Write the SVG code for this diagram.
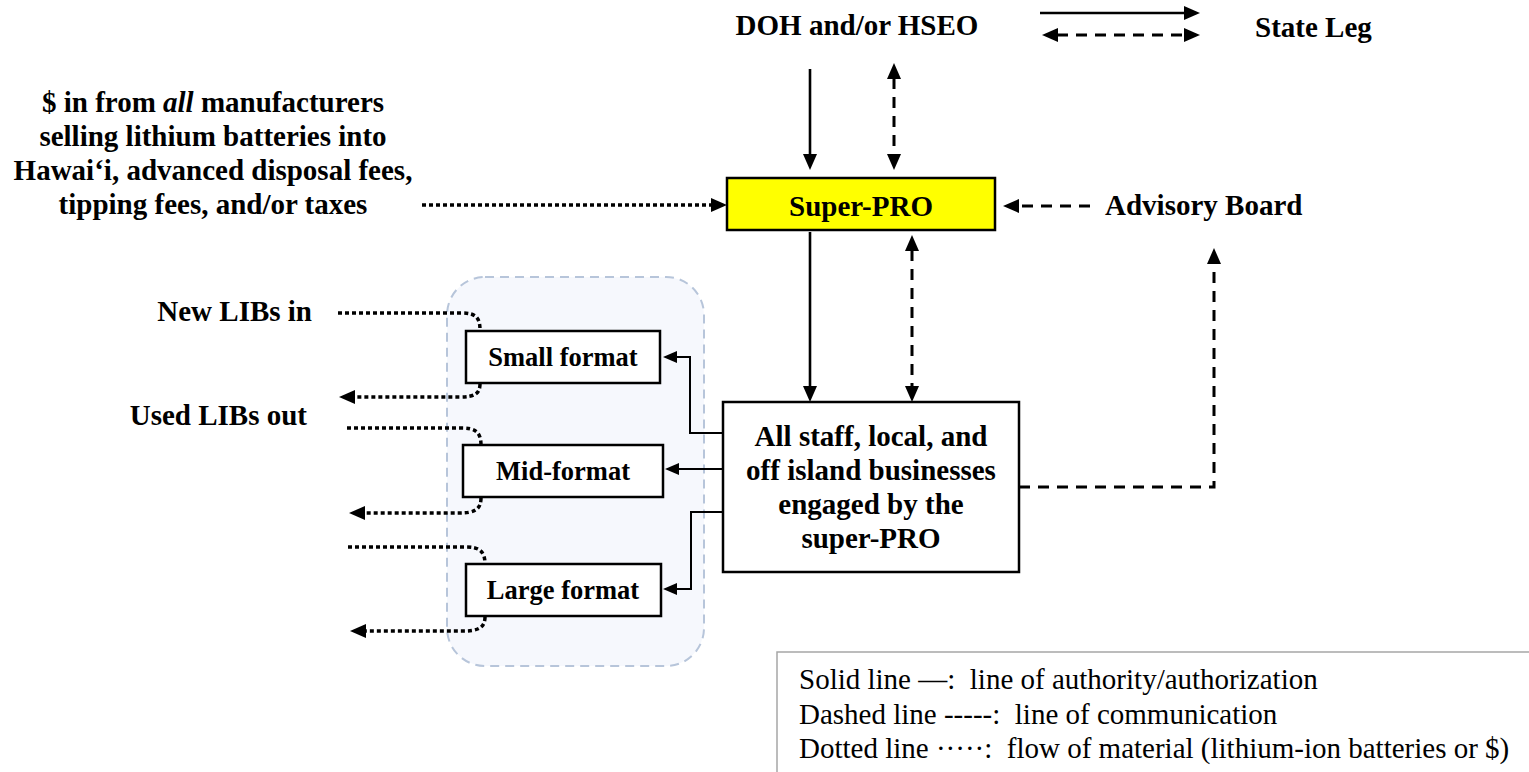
<svg xmlns="http://www.w3.org/2000/svg" width="1529" height="772" viewBox="0 0 1529 772">
  <style>
    .lbl { font-family: "Liberation Serif", "Times New Roman", serif; font-weight: bold; font-size: 29px; fill: #000; }
    .fmt { font-family: "Liberation Serif", "Times New Roman", serif; font-weight: bold; font-size: 26.5px; fill: #000; }
    .leg { font-family: "Liberation Serif", "Times New Roman", serif; font-size: 29px; fill: #000; white-space: pre; }
    .box { fill: #fff; stroke: #000; stroke-width: 2.5; }
    .solid { fill: none; stroke: #000; stroke-width: 2.6; }
    .thin { fill: none; stroke: #000; stroke-width: 2; }
    .dash { fill: none; stroke: #000; stroke-width: 3; stroke-dasharray: 11 8; }
    .dot { fill: none; stroke: #000; stroke-width: 3.5; stroke-dasharray: 4 3; }
  </style>
  <defs>
    <marker id="arr" markerUnits="userSpaceOnUse" markerWidth="17" markerHeight="15" refX="1" refY="7" orient="auto-start-reverse">
      <path d="M0,0 L16,7 L0,14 Z" fill="#000"/>
    </marker>
    <marker id="arrSm" markerUnits="userSpaceOnUse" markerWidth="15" markerHeight="13" refX="1" refY="6" orient="auto-start-reverse">
      <path d="M0,0 L14,6 L0,12 Z" fill="#000"/>
    </marker>
  </defs>

  <!-- material-handling area around the three format groups -->
  <rect id="format-area" x="447" y="277" width="257" height="389" rx="38" fill="#f6f8fd" stroke="#b7c5da" stroke-width="2" stroke-dasharray="9 6"/>

  <!-- connectors -->
  <g id="connectors">
    <!-- key at top right -->
    <path class="solid" d="M1040,13 H1185" marker-end="url(#arr)"/>
    <path class="dash" d="M1057,35 H1185" marker-start="url(#arr)" marker-end="url(#arr)"/>

    <!-- agency to Super-PRO -->
    <path class="solid" d="M810,69 V155" marker-end="url(#arr)"/>
    <path class="dash" d="M894,78 V155" marker-start="url(#arr)" marker-end="url(#arr)"/>

    <!-- funding in -->
    <path class="dot" d="M422,205 H712" marker-end="url(#arr)"/>

    <!-- advisory board -->
    <path class="dash" d="M1090,206 H1018" marker-end="url(#arr)"/>

    <!-- Super-PRO to engaged businesses -->
    <path class="solid" d="M810,232 V387" marker-end="url(#arr)"/>
    <path class="dash" d="M912,250 V387" marker-start="url(#arr)" marker-end="url(#arr)"/>

    <!-- engaged businesses to advisory board -->
    <path class="dash" d="M1019,487 H1214 V263" marker-end="url(#arr)"/>

    <!-- engaged businesses to format groups -->
    <path class="thin" d="M723,433 H690 V357 H676" marker-end="url(#arrSm)"/>
    <path class="thin" d="M723,469 H678" marker-end="url(#arrSm)"/>
    <path class="thin" d="M723,512 H691 V589 H676" marker-end="url(#arrSm)"/>

    <!-- battery flows in / out -->
    <path class="dot" d="M338,313 H462 C475,313 480,317 480,330"/>
    <path class="dot" d="M480,384 C480,394 474,397 460,397 H354" marker-end="url(#arr)"/>
    <path class="dot" d="M347,428 H462 C475,428 481,432 481,445"/>
    <path class="dot" d="M481,498 C481,509 475,513 460,513 H364" marker-end="url(#arr)"/>
    <path class="dot" d="M348,547 H466 C479,547 485,551 485,564"/>
    <path class="dot" d="M485,617 C485,627 479,631 464,631 H365" marker-end="url(#arr)"/>
  </g>

  <!-- nodes -->
  <g id="doh">
    <text class="lbl" x="857" y="35" text-anchor="middle">DOH and/or HSEO</text>
  </g>
  <g id="state-leg">
    <text class="lbl" x="1255" y="37">State Leg</text>
  </g>
  <g id="funding">
    <text class="lbl" x="213" y="112" text-anchor="middle">$ in from <tspan font-style="italic">all</tspan> manufacturers</text>
    <text class="lbl" x="213" y="146" text-anchor="middle">selling lithium batteries into</text>
    <text class="lbl" x="213" y="180" text-anchor="middle">Hawai‘i, advanced disposal fees,</text>
    <text class="lbl" x="213" y="214" text-anchor="middle">tipping fees, and/or taxes</text>
  </g>
  <g id="super-pro">
    <rect x="727" y="178" width="268" height="52" fill="#ffff00" stroke="#000" stroke-width="2.5"/>
    <text class="lbl" x="861" y="216" text-anchor="middle">Super-PRO</text>
  </g>
  <g id="advisory-board">
    <text class="lbl" x="1105" y="215">Advisory Board</text>
  </g>
  <g id="engaged-businesses">
    <rect class="box" x="723" y="402" width="296" height="170"/>
    <text class="lbl" x="871" y="446" text-anchor="middle">All staff, local, and</text>
    <text class="lbl" x="871" y="480" text-anchor="middle">off island businesses</text>
    <text class="lbl" x="871" y="514" text-anchor="middle">engaged by the</text>
    <text class="lbl" x="871" y="548" text-anchor="middle">super-PRO</text>
  </g>
  <g id="new-libs">
    <text class="lbl" x="312" y="321" text-anchor="end">New LIBs in</text>
  </g>
  <g id="used-libs">
    <text class="lbl" x="307" y="425" text-anchor="end">Used LIBs out</text>
  </g>
  <g id="small-format">
    <rect class="box" x="466" y="331" width="194" height="52" stroke-width="2"/>
    <text class="fmt" x="563" y="366" text-anchor="middle">Small format</text>
  </g>
  <g id="mid-format">
    <rect class="box" x="463" y="445" width="200" height="52" stroke-width="2"/>
    <text class="fmt" x="563" y="480" text-anchor="middle">Mid-format</text>
  </g>
  <g id="large-format">
    <rect class="box" x="466" y="564" width="195" height="52" stroke-width="2"/>
    <text class="fmt" x="563" y="599" text-anchor="middle">Large format</text>
  </g>

  <!-- line-style legend -->
  <g id="legend">
    <rect x="777" y="652" width="770" height="140" fill="#fff" stroke="#a6a6a6" stroke-width="1.5"/>
    <text class="leg" x="799" y="689">Solid line —:&#160; line of authority/authorization</text>
    <text class="leg" x="799" y="724">Dashed line -----:&#160; line of communication</text>
    <text class="leg" x="799" y="758">Dotted line ·····:&#160; flow of material (lithium-ion batteries or $)</text>
  </g>
</svg>
